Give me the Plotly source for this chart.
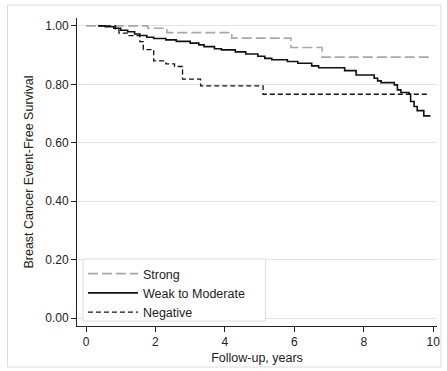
import plotly.graph_objects as go

# Kaplan-Meier step data (time in years, survival after step)
strong_t = [0.0, 1.78, 2.33, 4.2, 5.9, 6.8, 9.88]
strong_s = [1.0, 0.992, 0.977, 0.958, 0.926, 0.893, 0.893]

weak_t = [0.35, 0.55, 0.8, 1.0, 1.2, 1.4, 1.55, 1.75, 1.95, 2.3, 2.6, 3.0, 3.25, 3.4, 3.7,
          3.9, 4.3, 4.6, 4.95, 5.15, 5.35, 5.8, 6.1, 6.5, 6.7, 7.45, 7.78, 8.3, 8.4, 8.5,
          8.88, 8.97, 9.07, 9.3, 9.35, 9.45, 9.54, 9.73, 9.92]
weak_s = [1.0, 0.997, 0.992, 0.985, 0.980, 0.972, 0.967, 0.961, 0.957, 0.952, 0.947, 0.941,
          0.935, 0.929, 0.922, 0.918, 0.911, 0.904, 0.896, 0.889, 0.884, 0.878, 0.872, 0.863,
          0.857, 0.847, 0.832, 0.821, 0.812, 0.806, 0.798, 0.781, 0.772, 0.767, 0.741, 0.724,
          0.710, 0.692, 0.692]

neg_t = [0.35, 0.85, 0.95, 1.21, 1.55, 1.65, 1.95, 2.3, 2.55, 2.78, 3.3, 5.1, 9.88]
neg_s = [1.0, 0.986, 0.975, 0.967, 0.946, 0.919, 0.880, 0.870, 0.861, 0.818, 0.795, 0.766, 0.766]

y_ticks = [0.0, 0.2, 0.4, 0.6, 0.8, 1.0]
y_labels = ["0.00", "0.20", "0.40", "0.60", "0.80", "1.00"]
x_ticks = [0, 2, 4, 6, 8, 10]

FONT = "Liberation Sans, Arial, sans-serif"

fig = go.Figure()
fig.add_trace(go.Scatter(x=strong_t, y=strong_s, mode="lines", name="Strong",
                         line=dict(shape="hv", color="#a8a8a8", width=1.6, dash="10px,4px")))
fig.add_trace(go.Scatter(x=weak_t, y=weak_s, mode="lines", name="Weak to Moderate",
                         line=dict(shape="hv", color="#111111", width=1.6)))
fig.add_trace(go.Scatter(x=neg_t, y=neg_s, mode="lines", name="Negative",
                         line=dict(shape="hv", color="#111111", width=1.3, dash="5px,3px")))

fig.update_layout(
    width=447, height=371,
    margin=dict(l=77, r=7, t=18, b=45),
    paper_bgcolor="white", plot_bgcolor="white",
    font=dict(family=FONT, size=12, color="#222222"),
    showlegend=True,
    legend=dict(x=0.0165, y=0.2175, xanchor="left", yanchor="top",
                bgcolor="rgba(0,0,0,0)", borderwidth=0,
                font=dict(size=12.5, color="#222222"), itemwidth=50,
                tracegroupgap=0),
    xaxis=dict(range=[-0.26, 10.11], tickvals=x_ticks, ticks="outside", ticklen=5,
               tickcolor="#222", showline=True, linecolor="#222", linewidth=1,
               showgrid=False, zeroline=False, fixedrange=True,
               title=dict(text="Follow-up, years", font=dict(size=12.5), standoff=4)),
    yaxis=dict(range=[-0.027, 1.027], tickvals=y_ticks, ticktext=y_labels, ticks="outside",
               ticklen=5, tickcolor="#222", showline=True, linecolor="#222", linewidth=1,
               showgrid=True, gridcolor="#e4e4e4", gridwidth=1, zeroline=False,
               fixedrange=True,
               title=dict(text="Breast Cancer Event-Free Survival", font=dict(size=12.5),
                          standoff=8)),
    shapes=[
        dict(type="rect", xref="paper", yref="paper",
             x0=-70/363, x1=367/363, y0=-41/308, y1=321/308,
             line=dict(color="#dcdcdc", width=1), layer="below"),
        dict(type="rect", xref="paper", yref="paper",
             x0=6/363, x1=190/363, y0=5/308, y1=67/308,
             fillcolor="white", line=dict(color="#dddddd", width=1), layer="above"),
    ],
)

fig.write_html("out.html", config={"displayModeBar": False},
               post_script="document.body.style.margin='0';")
